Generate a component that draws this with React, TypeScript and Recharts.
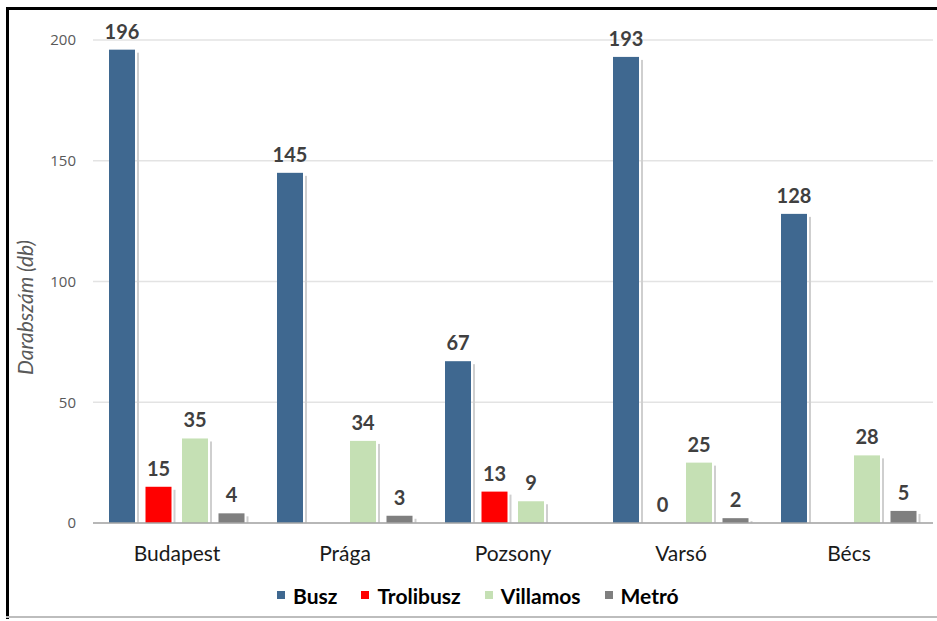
import React from "react";
import {
  BarChart,
  Bar,
  XAxis,
  YAxis,
  CartesianGrid,
  Legend,
  LabelList,
  Label,
} from "recharts";

// cities and vehicle counts per mode
const cities = ["Budapest", "Prága", "Pozsony", "Varsó", "Bécs"];
const busz = [196, 145, 67, 193, 128];
const trolibusz = [15, null, 13, 0, null];
const villamos = [35, 34, 9, 25, 28];
const metro = [4, 3, null, 2, 5];
const yTicks = [0, 50, 100, 150, 200];

const series = [
  { key: "Busz", values: busz, color: "#3f6890" },
  { key: "Trolibusz", values: trolibusz, color: "#ff0000" },
  { key: "Villamos", values: villamos, color: "#c5e0b4" },
  { key: "Metró", values: metro, color: "#7f7f7f" },
];

const data = cities.map((city, i) => {
  const row: Record<string, any> = { city };
  series.forEach((s) => {
    row[s.key] = s.values[i];
  });
  return row;
});

const FONT = "Lato, 'Open Sans', sans-serif";

// bar with a thin soft shadow on its right edge
const ShadowBar = (props: any) => {
  const { x, y, width, height, fill } = props;
  if (!height || height <= 0) return null;
  return (
    <g>
      <rect x={x + width + 2} y={y + 3} width={2} height={Math.max(height - 3, 0)} fill="#cfcfcf" />
      <rect x={x} y={y} width={width} height={height} fill={fill} />
    </g>
  );
};

const LegendContent = () => (
  <div
    style={{
      display: "flex",
      alignItems: "center",
      height: 30,
      marginLeft: 244,
      fontFamily: FONT,
      fontWeight: 700,
      fontSize: 21,
      color: "#000",
    }}
  >
    {series.map((s) => (
      <div key={s.key} style={{ display: "flex", alignItems: "center", marginRight: 24 }}>
        <span style={{ width: 8, height: 8, background: s.color, marginRight: 8 }} />
        <span>{s.key}</span>
      </div>
    ))}
  </div>
);

const labelStyle = {
  fontFamily: FONT,
  fontWeight: 700,
  fontSize: 20,
  fill: "#404040",
};

export default function App() {
  return (
    <div
      style={{
        position: "absolute",
        left: 0,
        top: 0,
        width: 937,
        height: 621,
        background: "#fff",
        overflow: "hidden",
      }}
    >
      <BarChart
        width={937}
        height={621}
        data={data}
        margin={{ top: 40, right: 4, left: 33, bottom: 11 }}
        barSize={26}
        barGap={10.5}
      >
        <CartesianGrid vertical={false} stroke="#e3e3e3" strokeWidth={1.5} />
        <XAxis
          dataKey="city"
          height={57}
          tickLine={false}
          tickSize={0}
          tickMargin={23}
          axisLine={{ stroke: "#a6a6a6", strokeWidth: 1.5 }}
          tick={{ fontFamily: FONT, fontSize: 21, fill: "#1a1a1a" }}
        />
        <YAxis
          width={60}
          domain={[0, 200]}
          ticks={yTicks}
          tickLine={false}
          axisLine={false}
          tickSize={0}
          tickMargin={17}
          tick={{ fontFamily: "'Open Sans', sans-serif", fontSize: 15, fill: "#595959" }}
        >
          <Label
            value="Darabszám (db)"
            angle={-90}
            position="insideLeft"
            dx={-12}
            dy={26}
            style={{
              fontFamily: FONT,
              fontStyle: "italic",
              fontSize: 21,
              fill: "#595959",
              textAnchor: "middle",
            }}
          />
        </YAxis>
        <Legend verticalAlign="bottom" content={<LegendContent />} />
        {series.map((s) => (
          <Bar
            key={s.key}
            dataKey={s.key}
            fill={s.color}
            shape={<ShadowBar />}
            isAnimationActive={false}
          >
            <LabelList
              dataKey={s.key}
              position="top"
              offset={11}
              style={labelStyle}
              formatter={(v: any) => (v === null || v === undefined ? "" : v)}
            />
          </Bar>
        ))}
      </BarChart>
      {/* frame: black on the left and top, light grey at the bottom */}
      <div style={{ position: "absolute", left: 6, top: 7, width: 3, height: 612, background: "#000" }} />
      <div style={{ position: "absolute", left: 6, top: 7, width: 931, height: 3, background: "#000" }} />
      <div style={{ position: "absolute", left: 6, top: 616, width: 931, height: 2, background: "#bdbdbd" }} />
    </div>
  );
}
